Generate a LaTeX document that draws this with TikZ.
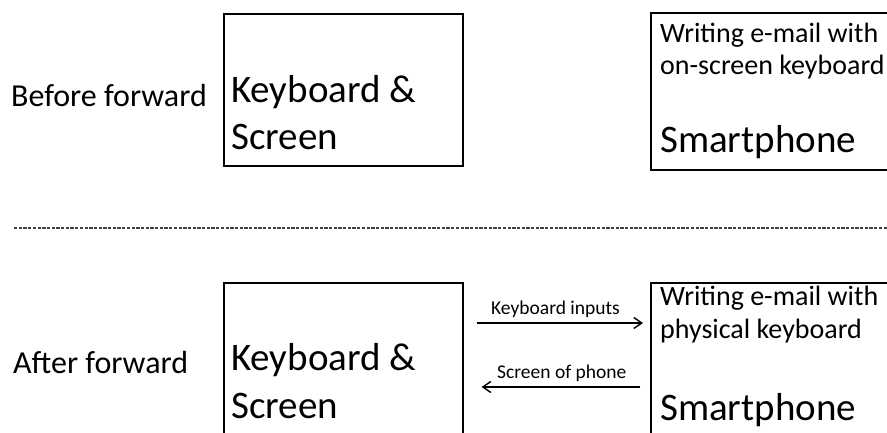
\documentclass[tikz,border=0pt]{standalone}
\usepackage{fontspec}
\setmainfont{Carlito}
\usetikzlibrary{arrows.meta}
\definecolor{dashgray}{HTML}{404040}
\tikzset{
  boxstyle/.style={draw=black, line width=1.6pt, inner sep=0pt, anchor=north west},
  lbl/.style={inner sep=0pt, anchor=base west, font=\fontsize{32}{38}\selectfont},
  bigtxt/.style={inner sep=0pt, anchor=base west, font=\fontsize{39}{47}\selectfont},
  smalltxt/.style={inner sep=0pt, anchor=base west, font=\fontsize{28}{33}\selectfont},
  arrtxt/.style={inner sep=0pt, anchor=base west, font=\fontsize{19.5}{23}\selectfont},
  arr/.style={line width=1.4pt, -{Straight Barb[length=8pt,width=11pt]}},
  divider/.style={draw=dashgray, line width=2pt, dash pattern=on 3.3pt off 1.4pt}
}
\begin{document}
\begin{tikzpicture}[x=1pt, y=-1pt]
\useasboundingbox (0,0) rectangle (887,433);
\clip (0,0) rectangle (887,433);
\fill[white] (0,0) rectangle (887,433);

% top row
\node[lbl] (before) at (11,107) {Before forward};
\node[boxstyle, minimum width=239pt, minimum height=152pt] (kb1) at (223,13) {};
\node[bigtxt] (kb1a) at (231,103) {Keyboard \&};
\node[bigtxt] (kb1b) at (231,150) {Screen};
\node[boxstyle, minimum width=260pt, minimum height=157pt] (sp1) at (650,12) {};
\node[smalltxt] (sp1a) at (660,43) {Writing e-mail with};
\node[smalltxt] (sp1b) at (660,75) {on-screen keyboard};
\node[bigtxt] (sp1c) at (660,153) {Smartphone};

% divider
\coordinate (dl) at (14,228);
\coordinate (dr) at (890,228);
\draw[divider] (dl) -- (dr);

% bottom row
\node[lbl] (after) at (13,373) {After forward};
\node[boxstyle, minimum width=239pt, minimum height=170pt] (kb2) at (223,282) {};
\node[bigtxt] (kb2a) at (231,370) {Keyboard \&};
\node[bigtxt] (kb2b) at (231,418) {Screen};
\node[boxstyle, minimum width=260pt, minimum height=170pt] (sp2) at (650,282) {};
\node[smalltxt] (sp2a) at (660,305) {Writing e-mail with};
\node[smalltxt] (sp2b) at (660,338) {physical keyboard};
\node[bigtxt] (sp2c) at (660,420) {Smartphone};

\node[arrtxt] (kin) at (491,314) {Keyboard inputs};
\node[arrtxt] (sop) at (497,378) {Screen of phone};
\draw[arr] ([shift={(13,41)}]kb2.north east) -- ([shift={(-7,41)}]sp2.north west);
\draw[arr] ([shift={(-10,105)}]sp2.north west) -- ([shift={(18,105)}]kb2.north east);
\end{tikzpicture}
\end{document}
